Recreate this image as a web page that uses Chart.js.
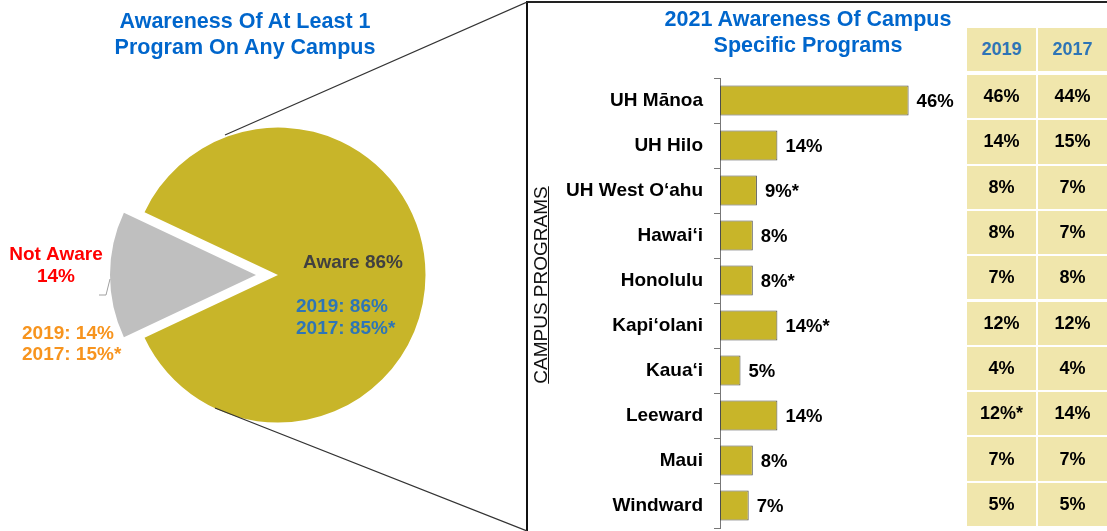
<!DOCTYPE html>
<html>
<head>
<meta charset="utf-8">
<script src="https://cdn.jsdelivr.net/npm/chart.js@4.4.0/dist/chart.umd.min.js"></script>
<style>
  body { margin: 0; width: 1107px; height: 531px; overflow: hidden; background: #fff; position: relative;
         font-family: "Liberation Sans", Arial, sans-serif; }
  canvas { position: absolute; }
  .title { position: absolute; color: #0066CC; font-weight: bold; font-size: 21.5px; line-height: 26px;
           text-align: center; white-space: nowrap; }
  #box { position: absolute; left: 526px; top: 1px; width: 600px; height: 560px;
         border-left: 2px solid #111; border-top: 2px solid #222; }
  #axisTitle { position: absolute; left: 431px; top: 274px; width: 220px; height: 22px; line-height: 22px;
               text-align: center; font-size: 19px; color: #111; text-decoration: underline;
               transform: rotate(-90deg); white-space: nowrap; }
  .cell { position: absolute; width: 69px; background: #F0E6AC; font-weight: bold; font-size: 18px;
          color: #000; display: flex; align-items: center; justify-content: center; }
  .cell.head { color: #2E75B6; }
</style>
</head>
<body>
<div id="box"></div>
<canvas id="pieGold" width="527" height="531" style="left:0;top:0"></canvas>
<canvas id="pieGray" width="527" height="531" style="left:0;top:0"></canvas>
<canvas id="bars" width="440" height="531" style="left:527px;top:0"></canvas>
<div class="title" style="left:0;top:8px;width:490px">Awareness Of At Least 1<br>Program On Any Campus</div>
<div class="title" style="left:608px;top:6px;width:400px">2021 Awareness Of Campus<br>Specific Programs</div>
<div id="axisTitle">CAMPUS PROGRAMS</div>
<div id="table"></div>
<script>
// pie: awareness of at least one program
var pieCats = ['Aware', 'Not Aware'];
var pie2021 = [86, 14];
var pie2019 = [86, 14];
var pie2017 = [85, 15];
var pie2017Sig = [true, true];

// bars: campus specific awareness
var campuses = ['UH Mānoa', 'UH Hilo', 'UH West O‘ahu', 'Hawai‘i', 'Honolulu', 'Kapi‘olani', 'Kaua‘i', 'Leeward', 'Maui', 'Windward'];
var values2021 = [46, 14, 9, 8, 8, 14, 5, 14, 8, 7];
var sig2021 = [false, false, true, false, true, true, false, false, false, false];

// comparison table
var tableYears = ['2019', '2017'];
var values2019 = [46, 14, 8, 8, 7, 12, 4, 12, 7, 5];
var sig2019 = [false, false, false, false, false, false, false, true, false, false];
var values2017 = [44, 15, 7, 7, 8, 12, 4, 14, 7, 5];
var sig2017 = [false, false, false, false, false, false, false, false, false, false];

Chart.defaults.font.family = "'Liberation Sans', Arial, sans-serif";
Chart.defaults.animation = false;
Chart.defaults.events = [];

var GOLD = '#C8B529';
var GRAY = '#BFBFBF';
var BOLD = "bold 19px 'Liberation Sans', Arial, sans-serif";

function pct(v, star) { return v + '%' + (star ? '*' : ''); }

// put the small slice centred on the left side
var pieRotation = 270 - (pie2021[0] * 3.6 + pie2021[1] * 1.8);

function pieConfig(colors, radius, padding, plugins) {
    return {
        type: 'pie',
        data: {
            labels: pieCats,
            datasets: [{ data: pie2021, backgroundColor: colors, borderWidth: 0 }]
        },
        options: {
            responsive: false,
            rotation: pieRotation,
            radius: radius,
            layout: { padding: padding },
            plugins: { legend: { display: false }, tooltip: { enabled: false } }
        },
        plugins: plugins || []
    };
}

// gold slice
new Chart(document.getElementById('pieGold'),
    pieConfig([GOLD, 'rgba(0,0,0,0)'], 147.5, { left: 29, right: 0, top: 19, bottom: 0 }));

// pulled out grey slice + labels + zoom lines
var pieDecor = {
    id: 'pieDecor',
    afterDatasetsDraw: function(chart) {
        var ctx = chart.ctx;
        ctx.save();
        ctx.strokeStyle = '#333';
        ctx.lineWidth = 1.2;
        ctx.beginPath();
        ctx.moveTo(225, 135); ctx.lineTo(527, 2);
        ctx.moveTo(215, 408); ctx.lineTo(527, 531);
        ctx.stroke();

        ctx.strokeStyle = '#A0A0A0';
        ctx.lineWidth = 1;
        ctx.beginPath();
        ctx.moveTo(99, 295); ctx.lineTo(106, 295); ctx.lineTo(110, 279);
        ctx.stroke();

        ctx.font = BOLD;
        ctx.textBaseline = 'middle';
        ctx.textAlign = 'left';
        ctx.fillStyle = '#404040';
        ctx.fillText(pieCats[0] + ' ' + pct(pie2021[0]), 303, 263);
        ctx.fillStyle = '#2E75B6';
        ctx.fillText('2019: ' + pct(pie2019[0]), 296, 307);
        ctx.fillText('2017: ' + pct(pie2017[0], pie2017Sig[0]), 296, 329);

        ctx.fillStyle = '#F7941E';
        ctx.fillText('2019: ' + pct(pie2019[1]), 22, 334);
        ctx.fillText('2017: ' + pct(pie2017[1], pie2017Sig[1]), 22, 355);

        ctx.textAlign = 'center';
        ctx.fillStyle = '#FF0000';
        ctx.fillText(pieCats[1], 56, 255);
        ctx.fillText(pct(pie2021[1]), 56, 277);
        ctx.restore();
    }
};
new Chart(document.getElementById('pieGray'),
    pieConfig(['rgba(0,0,0,0)', GRAY], 146, { left: 0, right: 15, top: 19, bottom: 0 }, [pieDecor]));

// value labels at bar ends
var barLabels = {
    id: 'barLabels',
    afterDatasetsDraw: function(chart) {
        var ctx = chart.ctx;
        var meta = chart.getDatasetMeta(0);
        ctx.save();
        ctx.font = "bold 18.5px 'Liberation Sans', Arial, sans-serif";
        ctx.fillStyle = '#000';
        ctx.textAlign = 'left';
        ctx.textBaseline = 'middle';
        meta.data.forEach(function(bar, i) {
            ctx.fillText(pct(values2021[i], sig2021[i]), bar.x + 8, bar.y + 1);
        });
        ctx.restore();
    }
};

new Chart(document.getElementById('bars'), {
    type: 'bar',
    data: {
        labels: campuses,
        datasets: [{
            data: values2021,
            backgroundColor: GOLD,
            borderColor: '#4D4D4D',
            borderWidth: 1,
            borderSkipped: false,
            barPercentage: 0.667,
            categoryPercentage: 1
        }]
    },
    options: {
        responsive: false,
        indexAxis: 'y',
        layout: { padding: { left: 0, right: 1, top: 78, bottom: 3 } },
        scales: {
            x: { display: false, min: 0, max: 60 },
            y: {
                afterFit: function(scale) {
                    scale.width = 193;
                    scale.paddingTop = 0;
                    scale.paddingBottom = 0;
                },
                grid: { drawOnChartArea: false, drawTicks: true, tickLength: 6, color: '#777', offset: true },
                border: { display: true, color: '#777', width: 1 },
                ticks: { color: '#000', padding: 11, font: { size: 19, weight: 'bold' } }
            }
        },
        plugins: { legend: { display: false }, tooltip: { enabled: false } }
    },
    plugins: [barLabels]
});

// table of earlier years
var table = document.getElementById('table');
function addCell(text, left, top, height, cls) {
    var d = document.createElement('div');
    d.className = 'cell' + (cls ? ' ' + cls : '');
    d.style.left = left + 'px';
    d.style.top = top + 'px';
    d.style.height = height + 'px';
    d.textContent = text;
    table.appendChild(d);
}
var colLeft = [967, 1038];
tableYears.forEach(function(y, c) { addCell(y, colLeft[c], 28, 43, 'head'); });
campuses.forEach(function(name, i) {
    var top = 75 + i * 45.3;
    addCell(pct(values2019[i], sig2019[i]), colLeft[0], top, 43.3);
    addCell(pct(values2017[i], sig2017[i]), colLeft[1], top, 43.3);
});
</script>
</body>
</html>
